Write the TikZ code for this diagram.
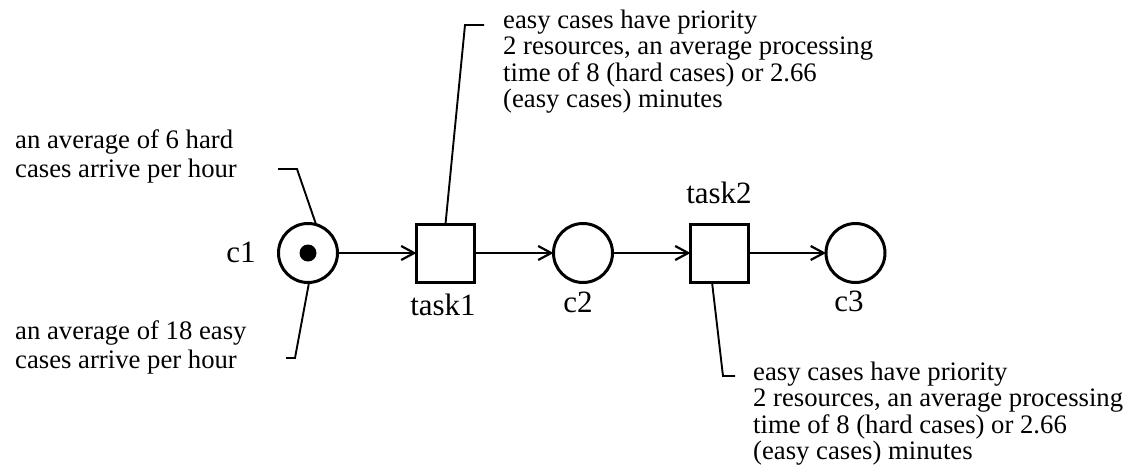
\documentclass[tikz,border=0pt]{standalone}
\usepackage{fontspec}
\setmainfont{Liberation Serif}
\usetikzlibrary{arrows.meta}
\begin{document}
\begin{tikzpicture}[x=1pt,y=-1pt,
  place/.style={circle,draw,line width=3pt,minimum size=59pt,inner sep=0pt,outer sep=0pt},
  trans/.style={rectangle,draw,line width=3pt,minimum size=58pt,inner sep=0pt,outer sep=0pt},
  tokendot/.style={circle,fill=black,minimum size=17pt,inner sep=0pt},
  lbl/.style={anchor=base,inner sep=0pt,font=\fontsize{31}{37}\selectfont},
  noteR/.style={anchor=base west,inner sep=0pt,align=left,font=\fontsize{26.7}{26.5}\selectfont},
  noteL/.style={anchor=base west,inner sep=0pt,align=left,font=\fontsize{26.7}{28.7}\selectfont},
  arc/.style={line width=2.2pt,-{Straight Barb[length=13pt,width=14pt,line width=2.2pt]}},
  leader/.style={line width=1.9pt}]
\useasboundingbox (0,0) rectangle (1128,474);
% places and transitions
\node[place] (c1) at (308,253) {};
\node[tokendot] (tok) at (308,253) {};
\node[trans] (t1) at (445.5,253) {};
\node[place] (c2) at (583,253) {};
\node[trans] (t2) at (719.5,253) {};
\node[place] (c3) at (855.5,253) {};
% labels
\node[lbl] (lc1) at (241,262) {c1};
\node[lbl] (lt1) at (443,315) {task1};
\node[lbl] (lc2) at (578,312) {c2};
\node[lbl] (lt2) at (719,203) {task2};
\node[lbl] (lc3) at (849,311) {c3};
% arcs
\draw[arc] (c1) -- (t1);
\draw[arc] (t1) -- (c2);
\draw[arc] (c2) -- (t2);
\draw[arc] (t2) -- (c3);
% annotations (anchor = baseline of last line)
\node[noteL] (n1) at (15,177) {an average of 6 hard\\cases arrive per hour};
\node[noteL] (n2) at (15,368) {an average of 18 easy\\cases arrive per hour};
\node[noteR] (n3) at (503,107.5) {easy cases have priority\\2 resources, an average processing\\time of 8 (hard cases) or 2.66\\(easy cases) minutes};
\node[noteR] (n4) at (753,459.5) {easy cases have priority\\2 resources, an average processing\\time of 8 (hard cases) or 2.66\\(easy cases) minutes};
% leader lines
\coordinate (a1) at (297,169);
\coordinate (a2) at (278,169);
\coordinate (b1) at (295,358);
\coordinate (b2) at (286,358);
\coordinate (d1) at (465,25);
\coordinate (d2) at (484,25);
\coordinate (e1) at (723,376);
\coordinate (e2) at (735,376);
\draw[leader] (c1.74) -- (a1) -- (a2);
\draw[leader] (c1.-88) -- (b1) -- (b2);
\draw[leader] (t1.north) -- (d1) -- (d2);
\draw[leader] ([xshift=-7.5pt]t2.south) -- (e1) -- (e2);
\end{tikzpicture}
\end{document}
